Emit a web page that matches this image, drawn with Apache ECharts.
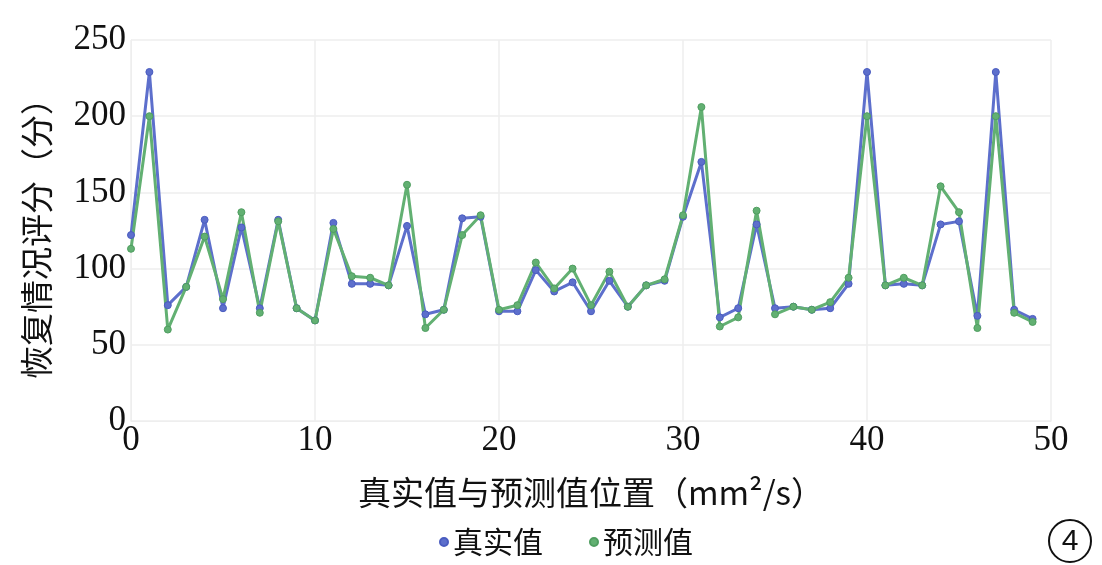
<!DOCTYPE html>
<html>
<head>
<meta charset="utf-8">
<script src="https://cdn.jsdelivr.net/npm/echarts@6/dist/echarts.min.js"></script>
<style>html,body{margin:0;padding:0;background:#fff;}#c{width:1102px;height:565px;}</style>
</head>
<body>
<div id="c"></div>
<script>
const positions = Array.from({length: 50}, (_, i) => i);
const realValues = [122,229,76,88,132,74,127,74,132,74,66,130,90,90,89,128,70,73,133,134,72,72,99,85,91,72,92,75,89,92,134,170,68,74,129,74,75,73,74,90,229,89,90,89,129,131,69,229,73,67];
const predValues = [113,200,60,88,121,80,137,71,131,74,66,126,95,94,89,155,61,73,122,135,73,76,104,87,100,76,98,75,89,93,135,206,62,68,138,70,75,73,78,94,200,89,94,89,154,137,61,200,71,65];
const xTicks = [0, 10, 20, 30, 40, 50];
const yTicks = [0, 50, 100, 150, 200, 250];
const seriesNames = ['真实值', '预测值'];

const chart = echarts.init(document.getElementById('c'));
const serif = 'Liberation Serif, Times New Roman, serif';
const cjk = 'Noto Sans CJK SC';
chart.setOption({
  animation: false,
  backgroundColor: '#fff',
  grid: {left: 131, right: 51, top: 40, bottom: 144},
  legend: {
    data: seriesNames,
    left: 434, top: 522,
    icon: 'circle', itemWidth: 8, itemHeight: 8, itemGap: 46,
    textStyle: {fontFamily: cjk, fontSize: 30, color: '#111'}
  },
  xAxis: {
    type: 'value', min: xTicks[0], max: xTicks[xTicks.length-1], interval: 10,
    name: '真实值与预测值位置（mm²/s）', nameLocation: 'middle', nameGap: 55,
    nameTextStyle: {fontFamily: cjk, fontSize: 33, color: '#111'},
    axisLine: {show: true, lineStyle: {color: '#eee'}},
    axisTick: {show: false},
    axisLabel: {fontFamily: serif, fontSize: 35, color: '#111', margin: 2},
    splitLine: {show: true, lineStyle: {color: '#eee', width: 1.5}}
  },
  yAxis: {
    type: 'value', min: yTicks[0], max: yTicks[yTicks.length-1], interval: 50,
    name: '恢复情况评分（分）', nameLocation: 'middle', nameGap: 78, nameRotate: 90,
    nameTextStyle: {fontFamily: cjk, fontSize: 33, color: '#111'},
    axisLine: {show: true, lineStyle: {color: '#eee'}},
    axisTick: {show: false},
    axisLabel: {fontFamily: serif, fontSize: 35, color: '#111', margin: 5},
    splitLine: {show: true, lineStyle: {color: '#eee', width: 1.5}}
  },
  series: [
    {
      name: seriesNames[0], type: 'line',
      data: positions.map((x, i) => [x, realValues[i]]),
      symbol: 'circle', symbolSize: 7, showSymbol: true,
      itemStyle: {color: '#5d6fcc', borderColor: '#4a5cc0', borderWidth: 1},
      lineStyle: {color: '#5d6fcc', width: 3}
    },
    {
      name: seriesNames[1], type: 'line',
      data: positions.map((x, i) => [x, predValues[i]]),
      symbol: 'circle', symbolSize: 7, showSymbol: true,
      itemStyle: {color: '#62b072', borderColor: '#4f9e60', borderWidth: 1},
      lineStyle: {color: '#62b072', width: 3}
    }
  ],
  graphic: [
    {type: 'circle', shape: {cx: 1070, cy: 541, r: 21}, style: {fill: 'none', stroke: '#111', lineWidth: 2}},
    {type: 'text', x: 1070, y: 542, style: {text: '4', font: '30px Liberation Sans Narrow, Liberation Sans, sans-serif', fill: '#111', align: 'center', verticalAlign: 'middle'}}
  ]
});
</script>
</body>
</html>
